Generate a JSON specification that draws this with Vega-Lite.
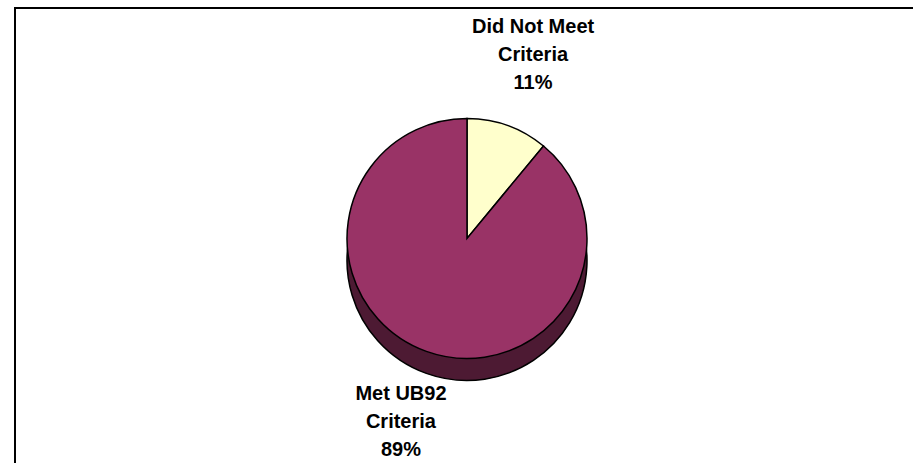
{
  "$schema": "https://vega.github.io/schema/vega-lite/v6.json",
  "width": 904,
  "height": 461,
  "autosize": {"type": "none"},
  "padding": {"left": 15, "top": 8, "right": 0, "bottom": 0},
  "background": "white",
  "config": {"view": {"stroke": null}},
  "data": {
    "values": [
      {"category": "Did Not Meet Criteria", "label": "Did Not Meet\nCriteria\n11%", "percent": 11},
      {"category": "Met UB92 Criteria", "label": "Met UB92\nCriteria\n89%", "percent": 89}
    ]
  },
  "layer": [
    {
      "mark": {"type": "rect", "fill": null, "fillOpacity": 0, "stroke": "#000000", "strokeWidth": 2},
      "encoding": {}
    },
    {
      "mark": {"type": "arc", "outerRadius": 120, "yOffset": 22, "fill": "#4D1A33", "stroke": "#000000", "strokeWidth": 1.5},
      "encoding": {
        "theta": {"field": "percent", "type": "quantitative", "stack": true},
        "order": {"field": "category", "sort": "ascending"}
      }
    },
    {
      "mark": {"type": "arc", "outerRadius": 120, "stroke": "#000000", "strokeWidth": 1.5},
      "encoding": {
        "theta": {"field": "percent", "type": "quantitative", "stack": true},
        "order": {"field": "category", "sort": "ascending"},
        "color": {"field": "category", "type": "nominal", "scale": {"range": ["#FFFFCC", "#993366"]}, "legend": null}
      }
    },
    {
      "mark": {"type": "text", "radius": 195, "dy": -28, "font": "Liberation Sans", "fontSize": 20, "fontWeight": "bold", "lineBreak": "\n", "lineHeight": 28, "align": "center", "baseline": "middle", "color": "#000000"},
      "encoding": {
        "theta": {"field": "percent", "type": "quantitative", "stack": true},
        "order": {"field": "category", "sort": "ascending"},
        "text": {"field": "label", "type": "nominal"}
      }
    }
  ]
}
